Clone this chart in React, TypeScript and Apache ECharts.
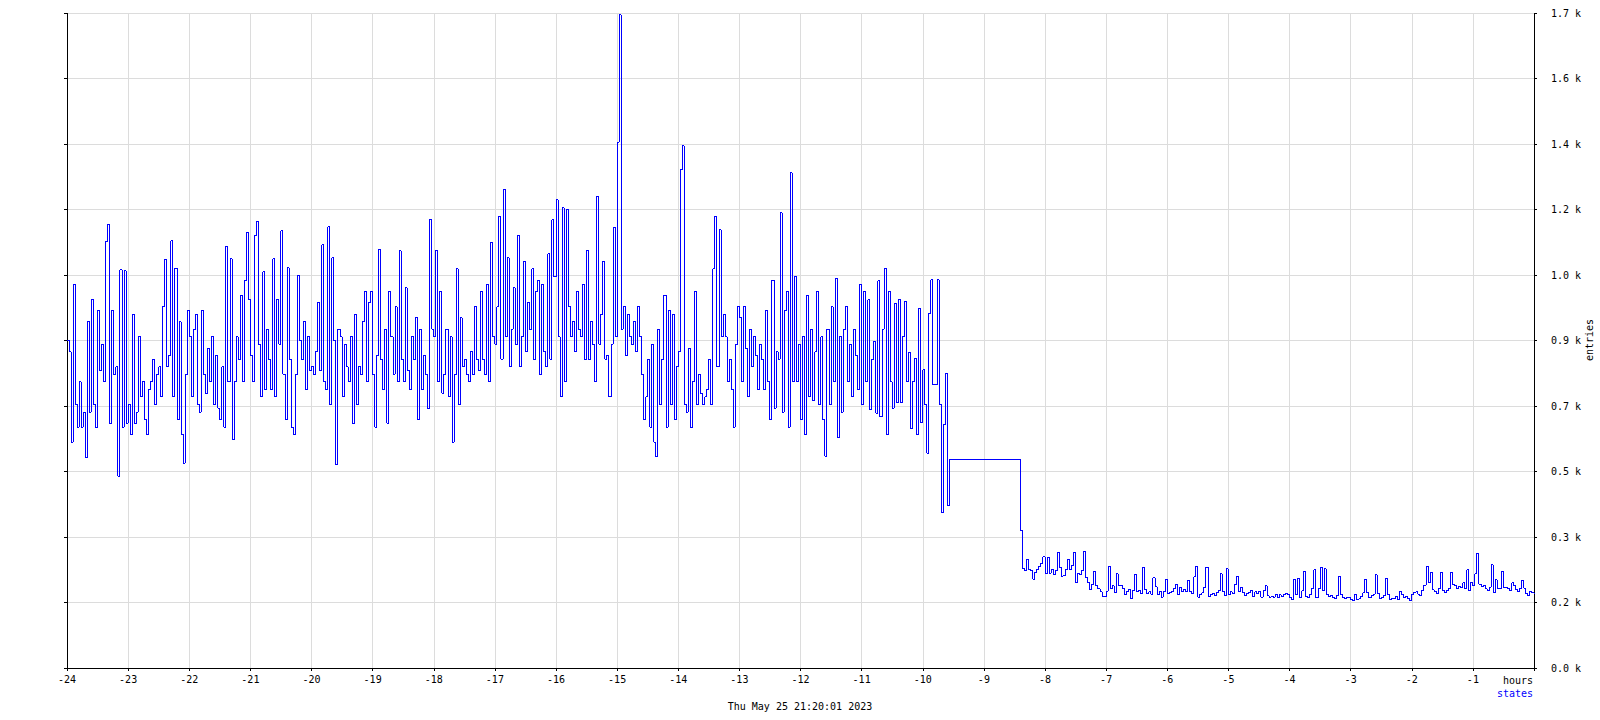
import React, { useEffect, useRef } from "react";
import * as echarts from "echarts";

// 2-minute samples of "states" entries, hour by hour, starting at -24 h
const h24 = [870, 840, 600, 1020, 700, 640, 760, 640, 680, 560, 920, 680, 980, 700, 640, 950, 790, 860, 760, 1134, 1178, 650, 950, 780, 800, 509, 1058, 640, 1055, 650];
const h23 = [700, 620, 940, 650, 680, 880, 720, 760, 660, 620, 740, 760, 820, 700, 780, 800, 720, 960, 1085, 800, 830, 1135, 720, 1062, 660, 920, 620, 544, 780, 950];
const h22 = [880, 720, 900, 940, 700, 680, 950, 780, 730, 850, 760, 880, 700, 830, 690, 660, 800, 640, 1121, 760, 1087, 606, 760, 880, 820, 990, 760, 1030, 1156, 980];
const h21 = [830, 760, 1149, 1186, 860, 720, 1052, 740, 900, 820, 740, 1087, 720, 980, 860, 1162, 780, 660, 1063, 820, 640, 620, 780, 1042, 870, 820, 920, 740, 880, 790];
const h20 = [800, 780, 840, 970, 790, 1124, 760, 740, 1172, 700, 1090, 870, 540, 900, 880, 720, 860, 800, 760, 880, 650, 940, 700, 800, 780, 920, 1000, 760, 970, 1000];
const h19 = [780, 640, 830, 1113, 820, 740, 900, 650, 1000, 880, 780, 960, 760, 1108, 820, 760, 1010, 790, 740, 880, 820, 930, 660, 900, 740, 830, 780, 690, 1191, 900];
const h18 = [880, 1110, 760, 1000, 730, 780, 900, 720, 880, 600, 780, 1060, 700, 930, 800, 820, 780, 760, 840, 780, 960, 820, 790, 1000, 820, 780, 1020, 760, 1130, 880];
const h17 = [860, 960, 1200, 820, 1271, 880, 1090, 800, 900, 1010, 860, 1150, 800, 880, 1080, 840, 970, 900, 1060, 820, 1000, 1030, 780, 1020, 840, 800, 1100, 820, 1191, 1040];
const h16 = [1244, 880, 720, 1222, 760, 1218, 960, 880, 920, 840, 1000, 900, 880, 1020, 820, 1110, 820, 920, 860, 760, 1253, 860, 940, 1080, 820, 830, 720, 860, 1170, 880];
const h15 = [1397, 1735, 900, 960, 830, 940, 880, 860, 920, 840, 960, 880, 780, 660, 720, 820, 640, 860, 600, 561, 900, 700, 820, 990, 640, 950, 700, 940, 660, 800];
const h14 = [840, 1324, 1387, 700, 680, 850, 640, 760, 1000, 700, 780, 730, 700, 720, 740, 820, 700, 1060, 1200, 800, 1164, 880, 940, 880, 760, 820, 740, 640, 860, 960];
const h13 = [930, 760, 960, 850, 720, 900, 800, 880, 830, 740, 860, 820, 740, 950, 760, 660, 1030, 690, 840, 820, 1209, 680, 950, 1000, 640, 1315, 760, 1040, 760, 860];
const h12 = [660, 880, 620, 990, 720, 900, 710, 840, 1000, 700, 880, 660, 563, 900, 700, 960, 760, 1036, 611, 880, 680, 900, 960, 760, 860, 720, 900, 830, 740, 1020];
const h11 = [700, 1000, 760, 978, 686, 820, 868, 677, 1029, 668, 900, 1062, 620, 1000, 760, 690, 969, 704, 980, 704, 880, 974, 760, 837, 637, 760, 823, 620, 956, 651];
const h10head = [792, 700, 571, 943, 1031, 753, 753, 1031, 700, 412, 646, 782, 432];

// flat stretch (sample indices from -24 h) and the step down
const plateauFrom = 433;
const plateauTo = 467;
const plateauValue = 553;
const dropVals = [364];

// low, quieter part after the drop
const lowA = [
  265, 258, 288, 262, 258, 236, 255, 262, 270, 278,
  295, 250, 294, 252, 262, 248, 258, 308, 268, 244,
  246, 262, 288, 262, 272, 308, 228, 252, 248, 260,
  309, 240, 226, 208, 222, 257, 218, 210, 202, 190,
  190, 204, 270, 210, 218, 200, 250, 220, 218, 210,
  194, 202, 208, 184, 206, 248, 204, 206, 198, 268,
  208, 198, 202, 196, 240, 216, 194, 204, 188, 202,
  236, 198, 200, 202, 210, 222, 196, 214, 202, 208,
  204, 233, 202, 198, 242, 270, 188, 196, 200, 214,
  268, 190, 194, 198, 192, 200, 206, 250, 204, 192,
  263, 194, 202, 198, 222, 243, 202, 214, 200, 192,
  198, 200, 206, 190, 202, 198, 204, 188, 206, 218,
  192, 188,
];
const lowB = [
  190, 188, 196, 186, 194, 190, 196, 198, 194, 186,
  182, 235, 196, 239, 188, 205, 257, 190, 186, 196,
  212, 261, 186, 210, 268, 206, 263, 196, 190, 192,
  188, 185, 192, 242, 196, 186, 184, 188, 186, 182,
  180, 196, 182, 184, 190, 200, 235, 200, 186, 192,
  196, 248, 198, 184, 186, 192, 239, 196, 182, 184,
  184, 190, 182, 204, 196, 188, 190, 184, 180, 196,
  200, 202, 196, 192, 206, 220, 270, 226, 255, 208,
  204, 198, 210, 255, 206, 200, 206, 212, 255, 222,
  220, 210, 216, 214, 226, 210, 261, 206, 228, 218,
  250, 305, 222, 216, 220, 210, 206, 215, 274, 200,
  234, 212, 210, 257, 214, 214, 210, 205, 226, 220,
  208, 204, 212, 232, 212, 198, 192, 204, 200, 196,
];

const yTickLabels = ["0.0 k", "0.2 k", "0.3 k", "0.5 k", "0.7 k", "0.9 k", "1.0 k", "1.2 k", "1.4 k", "1.6 k", "1.7 k"];
const xTickLabels = ["-24", "-23", "-22", "-21", "-20", "-19", "-18", "-17", "-16", "-15", "-14", "-13", "-12", "-11", "-10", "-9", "-8", "-7", "-6", "-5", "-4", "-3", "-2", "-1", ""];

const SAMPLES_PER_HOUR = 30;
const X_MIN = -24;
const Y_MAX = 1740;
const Y_STEP = 174;
const FONT = '"DejaVu Sans Mono", monospace';

function buildPoints(): [number, number][] {
  const t = (n: number) => X_MIN + n / SAMPLES_PER_HOUR;
  const active = [...h24, ...h23, ...h22, ...h21, ...h20, ...h19, ...h18, ...h17, ...h16, ...h15, ...h14, ...h13, ...h12, ...h11, ...h10head];
  const pts: [number, number][] = [];
  active.forEach((v, i) => pts.push([t(i), v]));
  pts.push([t(plateauFrom), plateauValue]);
  pts.push([t(plateauTo), plateauValue]);
  dropVals.forEach((v, i) => pts.push([t(plateauTo + 1 + i), v]));
  const lowFrom = plateauTo + 1 + dropVals.length;
  [...lowA, ...lowB].forEach((v, i) => pts.push([t(lowFrom + i), v]));
  return pts;
}

export default function App() {
  const ref = useRef<HTMLDivElement>(null);
  useEffect(() => {
    if (!ref.current) return;
    const chart = echarts.init(ref.current, null, { renderer: "svg" });
    const gridColor = "#dcdcdc";
    chart.setOption({
      animation: false,
      backgroundColor: "#ffffff",
      textStyle: { fontFamily: FONT, fontSize: 10 },
      grid: { left: 67, right: 66, top: 13, bottom: 52 },
      xAxis: {
        type: "value",
        min: X_MIN,
        max: 0,
        interval: 1,
        axisLine: { show: true, onZero: false, lineStyle: { color: "#000", width: 1 } },
        axisTick: { show: true, length: 3, lineStyle: { color: "#000" } },
        axisLabel: {
          color: "#000",
          fontFamily: FONT,
          fontSize: 10,
          margin: 6,
          formatter: (v: number) => xTickLabels[Math.round(v - X_MIN)] ?? "",
        },
        splitLine: { show: true, lineStyle: { color: gridColor, width: 1 } },
      },
      yAxis: [
        {
          type: "value",
          position: "right",
          min: 0,
          max: Y_MAX,
          interval: Y_STEP,
          axisLine: { show: true, onZero: false, lineStyle: { color: "#000", width: 1 } },
          axisTick: { show: true, length: 3, lineStyle: { color: "#000" } },
          axisLabel: {
            color: "#000",
            fontFamily: FONT,
            fontSize: 10,
            margin: 17,
            formatter: (v: number) => yTickLabels[Math.round(v / Y_STEP)] ?? "",
          },
          splitLine: { show: true, lineStyle: { color: gridColor, width: 1 } },
        },
        {
          type: "value",
          position: "left",
          min: 0,
          max: Y_MAX,
          interval: Y_STEP,
          axisLine: { show: true, onZero: false, lineStyle: { color: "#000", width: 1 } },
          axisTick: { show: true, length: 3, lineStyle: { color: "#000" } },
          axisLabel: { show: false },
          splitLine: { show: false },
        },
      ],
      series: [
        {
          name: "states",
          type: "line",
          yAxisIndex: 0,
          data: buildPoints(),
          step: "end",
          showSymbol: false,
          symbol: "none",
          lineStyle: { color: "#0000ff", width: 1 },
          itemStyle: { color: "#0000ff" },
        },
      ],
      graphic: [
        {
          type: "text",
          x: 1533,
          y: 680,
          style: { text: "hours", font: `10px ${FONT}`, fill: "#000", align: "right", verticalAlign: "middle", textAlign: "right", textVerticalAlign: "middle" },
        },
        {
          type: "text",
          x: 1533,
          y: 693,
          style: { text: "states", font: `10px ${FONT}`, fill: "#0000ff", align: "right", verticalAlign: "middle", textAlign: "right", textVerticalAlign: "middle" },
        },
        {
          type: "text",
          x: 800,
          y: 706,
          style: { text: "Thu May 25 21:20:01 2023", font: `10px ${FONT}`, fill: "#000", align: "center", verticalAlign: "middle", textAlign: "center", textVerticalAlign: "middle" },
        },
        {
          type: "text",
          x: 1589,
          y: 340,
          rotation: Math.PI / 2,
          style: { text: "entries", font: `10px ${FONT}`, fill: "#000", align: "center", verticalAlign: "middle", textAlign: "center", textVerticalAlign: "middle" },
        },
      ],
    });
    return () => chart.dispose();
  }, []);
  return (
    <>
      <style>{"body{margin:0} .rrd-chart svg path{shape-rendering:crispEdges}"}</style>
      <div className="rrd-chart" ref={ref} style={{ position: "absolute", left: 0, top: 0, width: 1600, height: 720 }} />
    </>
  );
}
